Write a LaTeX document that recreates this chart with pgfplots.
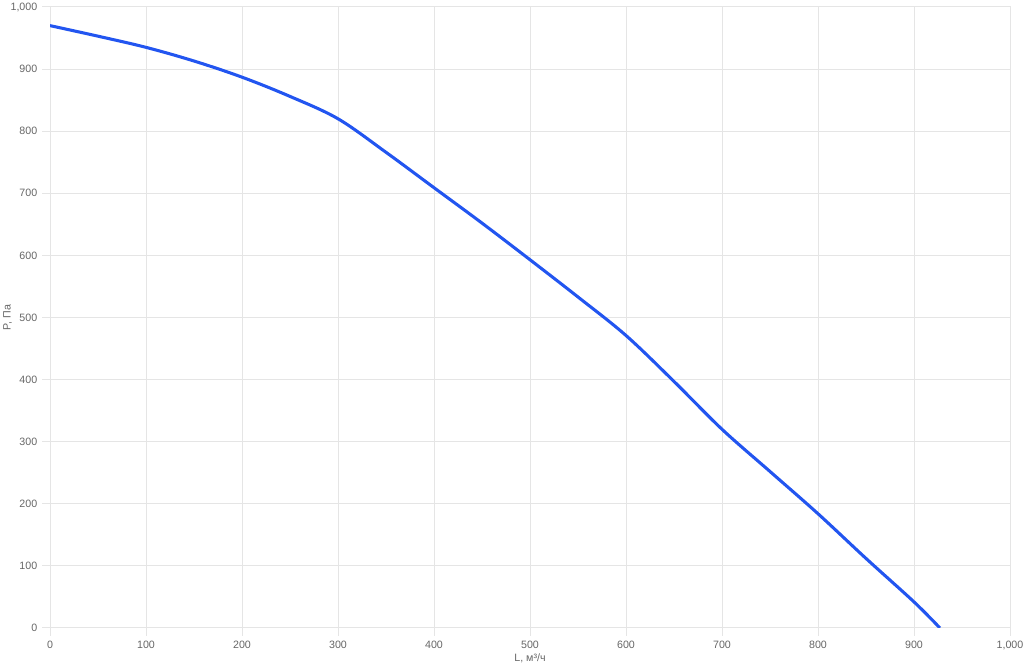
\documentclass[border=0pt]{standalone}
\usepackage{pgfplots}
\pgfplotsset{compat=1.18}
\usepackage{fontspec}
\setmainfont{Liberation Sans}
\definecolor{curve}{RGB}{34,85,240}
\definecolor{gridc}{RGB}{229,229,229}
\definecolor{labc}{RGB}{102,102,102}
\begin{document}
\begin{tikzpicture}[x=0.75pt,y=0.75pt]
\begin{axis}[
    name=ax,
    scale only axis,
    width=720pt, height=465.75pt,
    xmin=0, xmax=1000, ymin=0, ymax=1000,
    xtick distance=100, ytick distance=100,
    grid=major,
    major grid style={gridc, line width=0.75pt},
    axis line style={gridc, line width=0.75pt},
    tick style={gridc, line width=0.75pt},
    tick align=outside,
    major tick length=6pt,
    xtick pos=bottom, ytick pos=left,
    ticklabel style={font=\fontsize{8}{9}\selectfont, text=labc},
    /pgf/number format/assume math mode=true,
    /pgf/number format/1000 sep={,},
    xlabel={L, м³/ч},
    ylabel={P, Па},
    label style={font=\fontsize{8}{9}\selectfont, text=labc},
    xlabel style={yshift=4pt},
    ylabel style={yshift=-8pt},
]
\addplot[curve, line width=2.3pt, smooth, tension=0.55] coordinates {
    (0,970) (50,953) (100,935) (150,913) (200,887) (250,856) (300,820)
    (350,766) (400,709) (450,652) (500,593) (550,533) (600,471)
    (650,397) (700,320) (750,252) (800,184) (850,112) (900,42) (927,0)
};
\end{axis}
\pgfresetboundingbox
\path ([xshift=-37.5pt, yshift=-28.5pt]ax.south west) rectangle ([xshift=10.5pt, yshift=5.25pt]ax.north east);
\end{tikzpicture}
\end{document}
